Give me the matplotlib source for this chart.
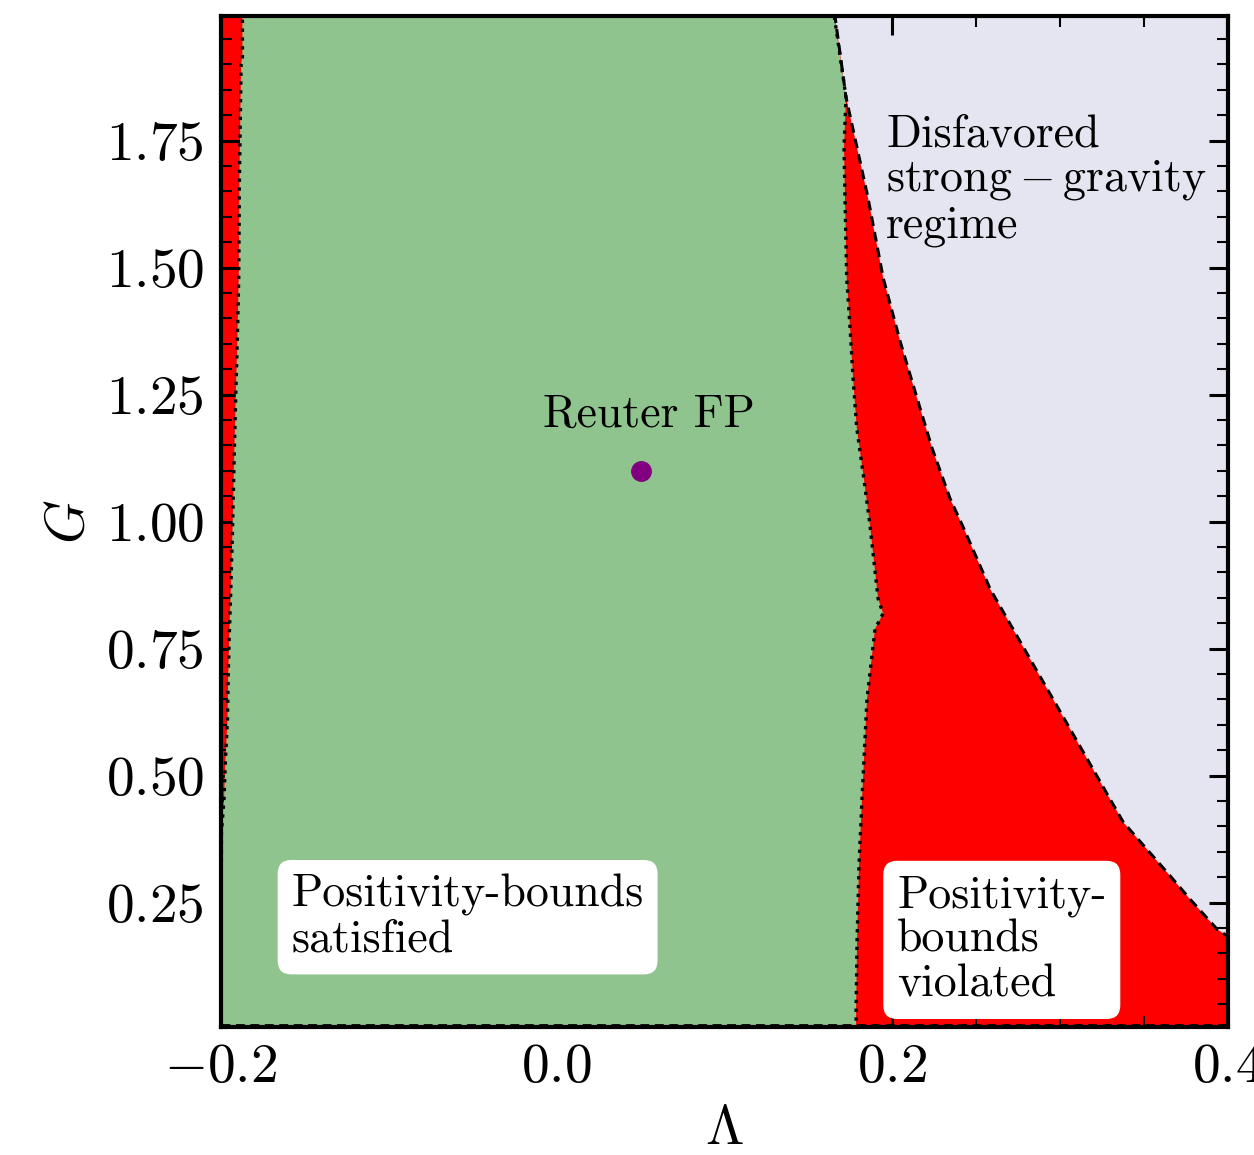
import numpy as np
import matplotlib
matplotlib.use("Agg")
import matplotlib.pyplot as plt
from matplotlib.ticker import MultipleLocator

plt.rcParams['font.family'] = 'serif'
plt.rcParams['font.serif'] = ['cmr10']
plt.rcParams['mathtext.fontset'] = 'cm'
plt.rcParams['axes.formatter.use_mathtext'] = True

# Left boundary (red strip / green), Lambda as function of G
G_left = [0.0, 0.388, 0.453, 0.532, 0.611, 0.690, 0.769, 0.848, 0.986, 1.144,
          1.282, 1.361, 1.480, 1.671, 1.900, 1.914, 2.0]
L_left = [-0.2, -0.1997, -0.1982, -0.1973, -0.1961, -0.1957, -0.1951, -0.1943,
          -0.1931, -0.1920, -0.1909, -0.1902, -0.1894, -0.1890, -0.1880, -0.1872, -0.1872]

# Middle boundary (green / red)
G_mid = [0.0, 0.039, 0.177, 0.321, 0.453, 0.651, 0.789, 0.819, 0.848, 0.992,
         1.085, 1.184, 1.282, 1.381, 1.480, 1.637, 1.736, 1.835, 2.0]
L_mid = [0.1784, 0.1784, 0.1790, 0.1801, 0.1819, 0.1849, 0.1897, 0.1945, 0.1915,
         0.1867, 0.1830, 0.1788, 0.1766, 0.1748, 0.1728, 0.1718, 0.1712, 0.1724, 0.1652]

# Strong-gravity boundary (red / lavender)
G_dash = [2.0, 1.995, 1.835, 1.637, 1.480, 1.355, 1.243, 1.144, 1.045, 0.980,
          0.867, 0.729, 0.591, 0.453, 0.408, 0.302, 0.256, 0.197, 0.183]
L_dash = [0.1652, 0.1658, 0.1724, 0.1855, 0.1945, 0.2046, 0.2147, 0.2237, 0.2344,
          0.2434, 0.2583, 0.2821, 0.3060, 0.3298, 0.3376, 0.3656, 0.3775, 0.3936, 0.4002]

fp_L, fp_G = 0.05, 1.1

xmin, xmax = -0.2, 0.4
ymin, ymax = 0.005, 1.995

fig = plt.figure(figsize=(12.54, 11.55), dpi=100)
ax = fig.add_axes([0.1762, 0.1108, 0.8031, 0.8753])
ax.set_facecolor('#e5e5f1')

red = '#ff0000'
green = '#8fc48f'

# red region: everything left/below the strong-gravity curve
red_x = [xmin - 0.01, xmin - 0.01] + L_dash + [xmax + 0.01, xmax + 0.01]
red_y = [-0.1, 2.1] + G_dash + [G_dash[-1], -0.1]
ax.fill(red_x, red_y, color=red, lw=0, zorder=1)

# green region between left and middle boundaries
gx = L_left + L_mid[::-1]
gy = G_left + G_mid[::-1]
ax.fill(gx, gy, color=green, lw=0, zorder=2)

ax.plot(L_left, G_left, ':', color='black', lw=2.4, zorder=3)
ax.plot(L_mid, G_mid, ':', color='black', lw=2.4, zorder=3)
ax.plot(L_dash, G_dash, '--', color='black', lw=2.2, dashes=(3.2, 2.0), zorder=3)
ax.plot([xmin, xmax], [ymin + 0.004, ymin + 0.004], '--', color='black', lw=2.0,
        dashes=(3.2, 2.0), zorder=3)

ax.plot([fp_L], [fp_G], 'o', color='purple', ms=14, zorder=5)
ax.text(0.055, 1.21, 'Reuter FP', fontsize=33, ha='center', va='center', zorder=6)

ax.text(0.1963, 1.671, 'Disfavored\n' + r'$\mathrm{strong-gravity}$' + '\nregime',
        fontsize=33, ha='left', va='center', linespacing=1.08, zorder=6)

bbox = dict(boxstyle='round,pad=0.3', facecolor='white', edgecolor='none')
ax.text(-0.158, 0.2207, 'Positivity-bounds\nsatisfied', fontsize=33, ha='left',
        va='center', linespacing=1.08, bbox=bbox, zorder=6)
ax.text(0.2028, 0.176, 'Positivity-\nbounds\nviolated', fontsize=33, ha='left',
        va='center', linespacing=1.08, bbox=bbox, zorder=6)

ax.set_xlim(xmin, xmax)
ax.set_ylim(ymin, ymax)
ax.xaxis.set_major_locator(MultipleLocator(0.2))
ax.xaxis.set_minor_locator(MultipleLocator(0.05))
ax.yaxis.set_major_locator(MultipleLocator(0.25))
ax.yaxis.set_minor_locator(MultipleLocator(0.05))
ax.tick_params(which='both', direction='in', top=True, right=True, labelsize=40)
ax.tick_params(which='major', length=14, width=2.2, pad=12)
ax.tick_params(which='minor', length=8, width=1.5)
for s in ax.spines.values():
    s.set_linewidth(3)
    s.set_zorder(10)

ax.set_xlabel(r'$\Lambda$', fontsize=40, labelpad=9)
ax.set_ylabel(r'$G$', fontsize=40, labelpad=8)

fig.savefig('out.png', dpi=100)
